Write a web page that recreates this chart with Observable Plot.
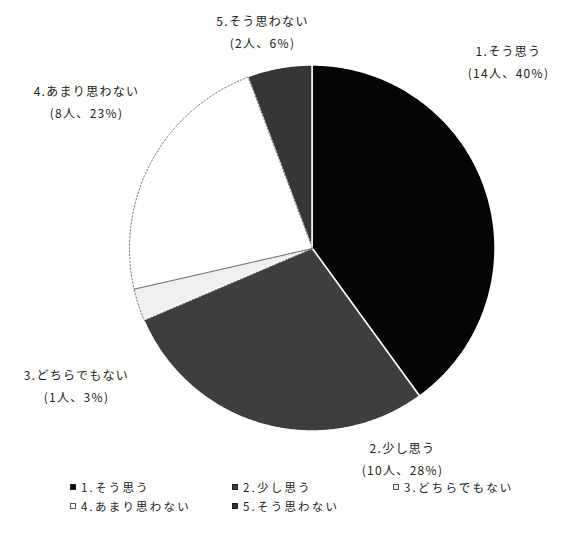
<!DOCTYPE html>
<html>
<head>
<meta charset="utf-8">
<script src="https://cdn.jsdelivr.net/npm/d3@7"></script>
<script src="https://cdn.jsdelivr.net/npm/@observablehq/plot@0.6"></script>
<style>
  html, body { margin: 0; padding: 0; background: #fff; }
  #wrap { position: relative; width: 561px; height: 545px; font-family: "Noto Sans CJK JP", sans-serif; color: #222; }
  #wrap svg { position: absolute; left: 0; top: 0; }
  .leg { position: absolute; font-size: 11.5px; letter-spacing: 2.2px; line-height: 14px; white-space: nowrap; display: flex; align-items: center; }
  .sw { display: inline-block; width: 6px; height: 6px; margin-right: 5px; box-sizing: border-box; border: 1px solid #222; }
</style>
</head>
<body>
<div id="wrap"></div>
<script>
// ---- data ----
const categories = ["1.そう思う", "2.少し思う", "3.どちらでもない", "4.あまり思わない", "5.そう思わない"];
const counts = [14, 10, 1, 8, 2];
const percents = [40, 28, 3, 23, 6];
const colors = ["#050505", "#3e3e3e", "#f0f0f0", "#ffffff", "#363636"];

// ---- layout ----
const W = 561, H = 545;
const CX = 312, CY = 248, R = 183;
const toUx = px => (px - CX) / R;
const toUy = py => (CY - py) / R;
const labelAnchors = [[508, 59], [402, 456], [76, 383], [86, 99], [262, 29]];
const legendPos = [[70, 487], [232, 487], [393, 487], [70, 506], [232, 506]];

const rows = categories.map((c, i) => ({label: c, count: counts[i], pct: percents[i]}));
const arcs = d3.pie().sort(null).value(d => d.count)(rows);

const pts = [];
const outline = [];
arcs.forEach(a => {
  const n = Math.max(4, Math.ceil((a.endAngle - a.startAngle) / 0.01));
  for (let k = 0; k <= n; k++) {
    const t = a.startAngle + (a.endAngle - a.startAngle) * k / n;
    pts.push({label: a.data.label, x1: Math.sin(t), y1: Math.cos(t), x2: 0, y2: 0});
  }
  if (a.data.label === categories[2] || a.data.label === categories[3]) {
    outline.push({label: a.data.label, x: 0, y: 0});
    for (let k = 0; k <= n; k++) {
      const t = a.startAngle + (a.endAngle - a.startAngle) * k / n;
      outline.push({label: a.data.label, x: Math.sin(t), y: Math.cos(t)});
    }
    outline.push({label: a.data.label, x: 0, y: 0});
  }
});

const labels = rows.map((d, i) => ({
  text: `${d.label}\n(${d.count}人、${d.pct}%)`,
  x: toUx(labelAnchors[i][0]),
  y: toUy(labelAnchors[i][1])
}));

const chart = Plot.plot({
  width: W, height: H,
  margin: 0,
  style: {fontFamily: "'Noto Sans CJK JP', sans-serif", letterSpacing: "1.3px", background: "#fff"},
  x: {domain: [toUx(0), toUx(W)], range: [0, W], axis: null},
  y: {domain: [toUy(0), toUy(H)], range: [0, H], axis: null},
  color: {type: "ordinal", domain: categories, range: colors},
  marks: [
    Plot.area(pts, {x1: "x1", y1: "y1", x2: "x2", y2: "y2", z: "label", fill: "label", stroke: "white", strokeWidth: 1.5, curve: "linear"}),
    Plot.line(outline, {x: "x", y: "y", z: "label", stroke: "#666", strokeWidth: 0.9, strokeDasharray: "1.5,2"}),
    Plot.text(labels, {x: "x", y: "y", text: "text", fontSize: 12, lineHeight: 1.85, fill: "#222"})
  ]
});

const wrap = document.getElementById("wrap");
wrap.appendChild(chart);

rows.forEach((d, i) => {
  const el = document.createElement("div");
  el.className = "leg";
  el.style.left = legendPos[i][0] + "px";
  el.style.top = (legendPos[i][1] - 7) + "px";
  const sw = document.createElement("span");
  sw.className = "sw";
  sw.style.background = colors[i];
  if (i >= 2 && i <= 3) sw.style.borderColor = "#555";
  el.appendChild(sw);
  const tx = document.createElement("span");
  tx.textContent = d.label;
  el.appendChild(tx);
  wrap.appendChild(el);
});
</script>
</body>
</html>
